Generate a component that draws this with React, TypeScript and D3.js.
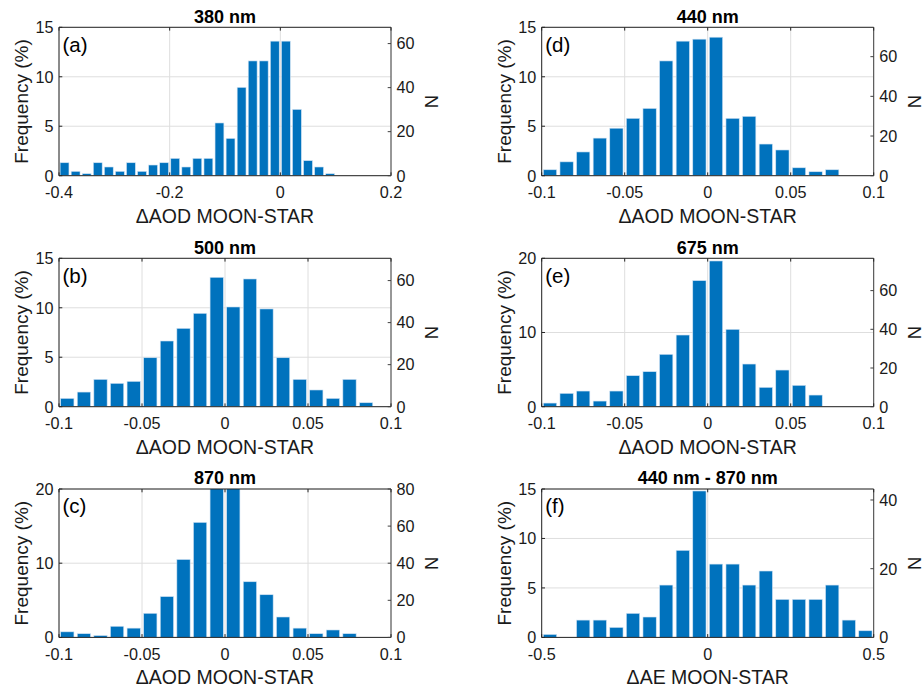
import React from 'react';
import * as d3 from 'd3';

const W = 924;
const H = 689;
const FONT = '"Liberation Sans", Arial, Helvetica, sans-serif';
const BLUE = '#0072BD';

// ---- data (frequency in %) ----
const freq380 = [1.31, 0.44, 0.2, 1.31, 0.88, 0.44, 1.31, 0.44, 1.08, 1.31, 1.75, 0.88, 1.75, 1.75, 5.33, 3.77, 8.93, 11.6, 11.6, 13.6, 13.6, 6.7, 1.52, 0.88, 0.2];
const freq440 = [0.6, 1.4, 2.4, 3.8, 4.8, 5.8, 6.8, 11.6, 13.6, 13.8, 14.0, 5.8, 6.0, 3.2, 2.6, 0.8, 0.4, 0.6];
const freq500 = [0.84, 1.48, 2.76, 2.36, 2.56, 4.95, 6.64, 7.92, 9.44, 13.08, 10.08, 12.91, 9.88, 4.95, 2.76, 1.69, 0.84, 2.76, 0.4];
const freq675 = [0.49, 1.8, 2.11, 0.76, 2.11, 4.18, 4.72, 7.06, 9.66, 16.99, 19.64, 10.43, 5.75, 2.61, 4.94, 2.88, 1.57];
const freq870 = [0.75, 0.5, 0.25, 1.5, 1.25, 3.25, 5.5, 10.5, 15.5, 21.5, 21.0, 7.5, 5.75, 2.75, 1.25, 0.5, 1.0, 0.5];
const freqAE = [0.3, 0, 1.75, 1.75, 1.01, 2.43, 2.06, 5.29, 8.8, 14.8, 7.41, 7.41, 5.29, 6.71, 3.84, 3.84, 3.84, 5.29, 1.75, 0.67];

// bin layout: first bin centre and bin width
const binStart = [-0.39, -0.095, -0.095, -0.095, -0.095, -0.475];
const binWidth = [0.02, 0.01, 0.01, 0.01, 0.01, 0.05];

const titles = ['380 nm', '440 nm', '500 nm', '675 nm', '870 nm', '440 nm - 870 nm'];
const tags = ['(a)', '(d)', '(b)', '(e)', '(c)', '(f)'];
const xLabels = ['ΔAOD MOON-STAR', 'ΔAOD MOON-STAR', 'ΔAOD MOON-STAR', 'ΔAOD MOON-STAR', 'ΔAOD MOON-STAR', 'ΔAE MOON-STAR'];

const xDomains: [number, number][] = [[-0.4, 0.2], [-0.1, 0.1], [-0.1, 0.1], [-0.1, 0.1], [-0.1, 0.1], [-0.5, 0.5]];
const xTickVals = [
  [-0.4, -0.2, 0, 0.2],
  [-0.1, -0.05, 0, 0.05, 0.1],
  [-0.1, -0.05, 0, 0.05, 0.1],
  [-0.1, -0.05, 0, 0.05, 0.1],
  [-0.1, -0.05, 0, 0.05, 0.1],
  [-0.5, 0, 0.5],
];
const yMaxes = [15, 15, 15, 20, 20, 15];
const yTickVals = [
  [0, 5, 10, 15],
  [0, 5, 10, 15],
  [0, 5, 10, 15],
  [0, 10, 20],
  [0, 10, 20],
  [0, 5, 10, 15],
];
const nMaxes = [67.4, 74.8, 70.6, 76.7, 80, 43.2];
const nTickVals = [
  [0, 20, 40, 60],
  [0, 20, 40, 60],
  [0, 20, 40, 60],
  [0, 20, 40, 60],
  [0, 20, 40, 60, 80],
  [0, 20, 40],
];
const freqs = [freq380, freq440, freq500, freq675, freq870, freqAE];

// layout
const colX = [59, 541.7];
const rowY = [27.3, 258.3, 489];
const PW = 332;
const PH = 148.4;

function fmt(v: number) {
  if (v === 0) return '0';
  return String(v);
}

function Panel({ idx }: { idx: number }) {
  const col = idx % 2;
  const row = Math.floor(idx / 2);
  const x0 = colX[col];
  const y0 = rowY[row];
  const xs = d3.scaleLinear().domain(xDomains[idx]).range([0, PW]);
  const ys = d3.scaleLinear().domain([0, yMaxes[idx]]).range([PH, 0]);
  const ns = d3.scaleLinear().domain([0, nMaxes[idx]]).range([PH, 0]);
  const data = freqs[idx];
  const bw = binWidth[idx];
  const start = binStart[idx];
  const tl = 3.3;
  const clipId = `clip-${idx}`;
  const axisCol = '#262626';
  const gridCol = '#dedede';

  return (
    <g transform={`translate(${x0},${y0})`}>
      <defs>
        <clipPath id={clipId}>
          <rect x={0} y={0} width={PW} height={PH} />
        </clipPath>
      </defs>
      {/* grid */}
      {xTickVals[idx].map((t, i) => (
        <line key={'gx' + i} x1={xs(t)} x2={xs(t)} y1={0} y2={PH} stroke={gridCol} strokeWidth={1} />
      ))}
      {yTickVals[idx].map((t, i) => (
        <line key={'gy' + i} x1={0} x2={PW} y1={ys(t)} y2={ys(t)} stroke={gridCol} strokeWidth={1} />
      ))}
      {/* bars */}
      <g clipPath={`url(#${clipId})`}>
        {data.map((v, i) => {
          const c = start + i * bw;
          const xl = xs(c - bw * 0.4);
          const xr = xs(c + bw * 0.4);
          if (v <= 0) return null;
          return (
            <rect key={'b' + i} x={xl} y={ys(v)} width={xr - xl} height={PH - ys(v)}
              fill={BLUE} stroke="#cfe2f3" strokeWidth={0.6} />
          );
        })}
      </g>
      {/* box */}
      <line x1={0} x2={PW} y1={PH} y2={PH} stroke={axisCol} strokeWidth={1} />
      <line x1={0} x2={PW} y1={0} y2={0} stroke={axisCol} strokeWidth={1} />
      <line x1={0} x2={0} y1={0} y2={PH} stroke={axisCol} strokeWidth={1} />
      <line x1={PW} x2={PW} y1={0} y2={PH} stroke="#404040" strokeWidth={1} />
      {/* x ticks */}
      {xTickVals[idx].map((t, i) => (
        <g key={'xt' + i}>
          <line x1={xs(t)} x2={xs(t)} y1={PH} y2={PH - tl} stroke={axisCol} />
          <line x1={xs(t)} x2={xs(t)} y1={0} y2={tl} stroke={axisCol} />
          <text x={xs(t)} y={PH + 22.5} textAnchor="middle" fontSize={16.2} fill="#1a1a1a">{fmt(t)}</text>
        </g>
      ))}
      {/* left y ticks */}
      {yTickVals[idx].map((t, i) => (
        <g key={'yt' + i}>
          <line x1={0} x2={tl} y1={ys(t)} y2={ys(t)} stroke={axisCol} />
          <text x={-5.5} y={ys(t)} dy="0.36em" textAnchor="end" fontSize={16.2} fill="#1a1a1a">{fmt(t)}</text>
        </g>
      ))}
      {/* right N ticks */}
      {nTickVals[idx].map((t, i) => (
        <g key={'nt' + i}>
          <line x1={PW} x2={PW - tl} y1={ns(t)} y2={ns(t)} stroke="#404040" />
          <text x={PW + 5.5} y={ns(t)} dy="0.36em" textAnchor="start" fontSize={16.2} fill="#1a1a1a">{fmt(t)}</text>
        </g>
      ))}
      {/* labels */}
      <text x={PW / 2} y={-4.8} textAnchor="middle" fontSize={18} fontWeight="bold" fill="#000">{titles[idx]}</text>
      <text x={PW / 2} y={PH + 47} textAnchor="middle" fontSize={19.5} fill="#1a1a1a">{xLabels[idx]}</text>
      <text transform={`translate(${-37.5},${PH / 2}) rotate(-90)`} dy="0.35em" textAnchor="middle" fontSize={19} fill="#1a1a1a">Frequency (%)</text>
      <text transform={`translate(${PW + 41},${PH / 2}) rotate(-90)`} dy="0.35em" textAnchor="middle" fontSize={18.5} fill="#1a1a1a">N</text>
      <text x={3.5} y={24.3} fontSize={20.5} fill="#000">{tags[idx]}</text>
    </g>
  );
}

export default function App() {
  return (
    <svg width={W} height={H} viewBox={`0 0 ${W} ${H}`}
      style={{ position: 'absolute', left: 0, top: 0, background: '#fff', fontFamily: FONT }}>
      <rect x={0} y={0} width={W} height={H} fill="#fff" />
      {d3.range(6).map((i) => (
        <Panel key={i} idx={i} />
      ))}
    </svg>
  );
}
